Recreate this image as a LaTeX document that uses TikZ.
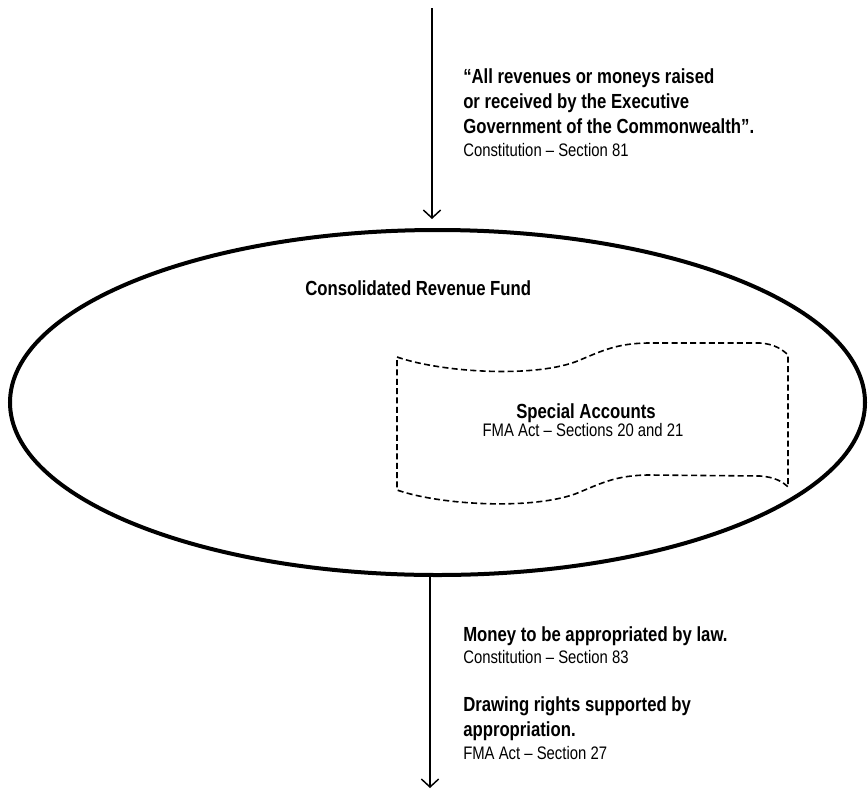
\documentclass[tikz,border=0pt]{standalone}
\usepackage{fontspec}
\setmainfont{Liberation Sans}[FakeStretch=0.82]
\usetikzlibrary{arrows.meta,shapes.geometric}
\tikzset{
  head/.style={font=\fontsize{15.3}{18.75}\selectfont\bfseries, align=left, inner sep=0pt},
  cite/.style={font=\fontsize{13.6}{16}\selectfont, align=left, inner sep=0pt},
  fund/.style={ellipse, draw, line width=3pt, minimum width=641.25pt, minimum height=258.75pt, inner sep=0pt},
  pocket/.style={draw, line width=1.2pt, dash pattern=on 4.5pt off 2.5pt},
  arr/.style={-{Straight Barb[length=6pt,width=13pt]}, line width=1.1pt}}

\begin{document}
\begin{tikzpicture}[x=0.75pt, y=-0.75pt]
\useasboundingbox (0,0) rectangle (868,790);
\node[fund] (crf) at (437.5,402.5) {};
\node[head, anchor=base west] (crflabel) at (305,295) {Consolidated Revenue Fund};
% special accounts inside the fund
\draw[pocket] (397,357) .. controls (440,372) and (530,378) .. (575,362)
  .. controls (600,352) and (615,343) .. (650,343) -- (760,343)
  .. controls (775,344) and (783,350) .. (788,355) -- (788,487)
  .. controls (783,482) and (775,477) .. (760,476) -- (650,475)
  .. controls (615,475) and (600,484) .. (575,494)
  .. controls (530,510) and (440,505) .. (397,490) -- cycle;
\node[head, anchor=base] (special) at (586,418) {Special Accounts};
\node[cite, anchor=base] (s2021) at (583,436) {FMA Act – Sections 20 and 21};
% money in
\coordinate (in) at (432,8);
\draw[arr, shorten >=6.75pt] (in) -- (in |- crf.north);
\node[head, anchor=base west] (quote) at (463,133) {“All revenues or moneys raised\\or received by the Executive\\Government of the Commonwealth”.};
\node[cite, anchor=base west] (s81) at (463,156) {Constitution – Section 81};
% money out
\coordinate (out) at (430,788);
\draw[arr] (out |- crf.south) -- (out);
\node[head, anchor=base west] (law) at (463,641) {Money to be appropriated by law.};
\node[cite, anchor=base west] (s83) at (463,663) {Constitution – Section 83};
\node[head, anchor=base west] (rights) at (463,736) {Drawing rights supported by\\appropriation.};
\node[cite, anchor=base west] (s27) at (463,759) {FMA Act – Section 27};
\end{tikzpicture}
\end{document}
